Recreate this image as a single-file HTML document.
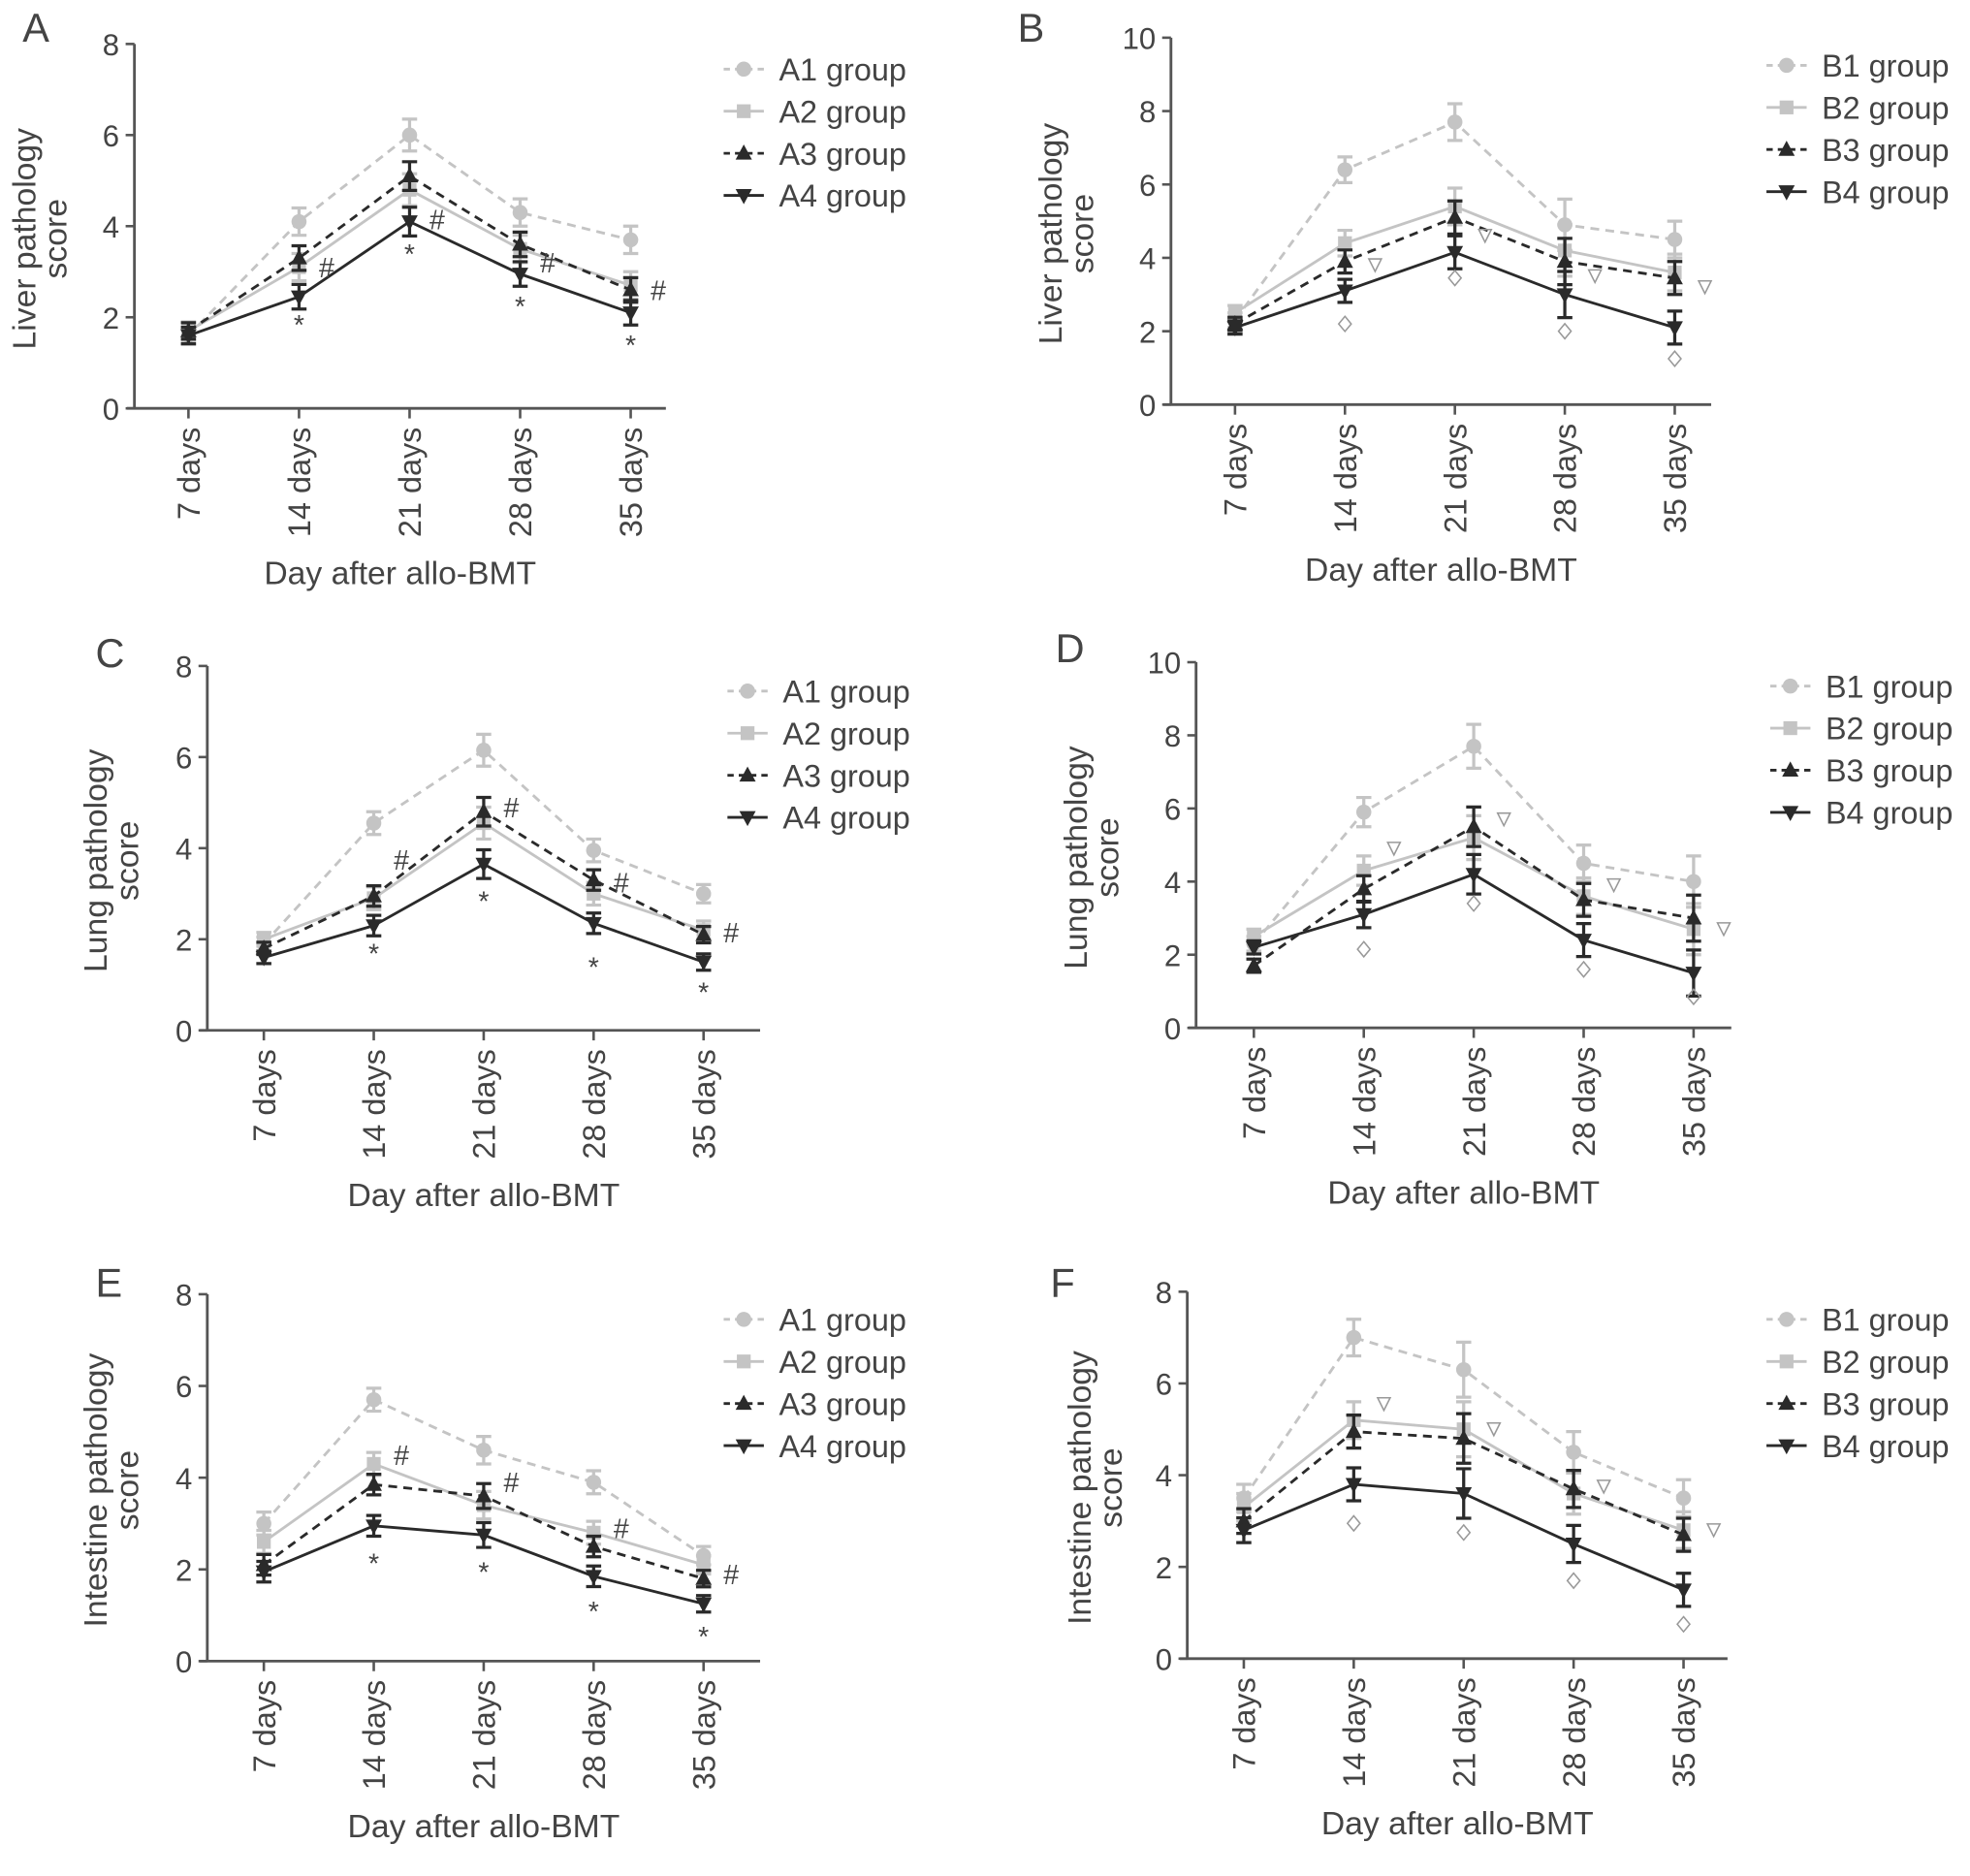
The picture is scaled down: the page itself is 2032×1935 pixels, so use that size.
<!DOCTYPE html>
<html><head><meta charset="utf-8"><style>
html,body{margin:0;padding:0;background:#fff;}
svg{display:block;}
text{font-family:"Liberation Sans",sans-serif;fill:#444;}
</style></head><body>
<svg id="fig" width="2032" height="1935" viewBox="0 0 1568 1493" preserveAspectRatio="none" xmlns="http://www.w3.org/2000/svg"></svg>
<script>
const categories = ["7 days","14 days","21 days","28 days","35 days"];
// Panel A (liver, A groups)
const A_s1 = [1.6, 4.1, 6.0, 4.3, 3.7];
const A_s2 = [1.7, 3.1, 4.8, 3.5, 2.7];
const A_s3 = [1.7, 3.3, 5.1, 3.6, 2.6];
const A_s4 = [1.6, 2.45, 4.1, 2.95, 2.1];
const A_err = [0.2, 0.3, 0.35, 0.3, 0.3];
const A_hash = [null, 3.1, 4.15, 3.2, 2.6];
const A_star = [null, 1.9, 3.45, 2.3, 1.45];
// Panel B (liver, B groups)
const B_s1 = [2.3, 6.4, 7.7, 4.9, 4.5];
const B_s2 = [2.5, 4.4, 5.4, 4.2, 3.6];
const B_s3 = [2.2, 3.9, 5.1, 3.9, 3.45];
const B_s4 = [2.1, 3.1, 4.15, 3.0, 2.1];
const B_err = [0.2, 0.35, 0.5, 0.7, 0.5];
const B_tri = [null, 3.8, 4.6, 3.5, 3.2];
const B_dia = [null, 2.2, 3.45, 2.0, 1.25];
// Panel C (lung, A groups)
const C_s1 = [1.9, 4.55, 6.15, 3.95, 3.0];
const C_s2 = [2.0, 2.9, 4.55, 3.0, 2.2];
const C_s3 = [1.8, 2.95, 4.8, 3.3, 2.1];
const C_s4 = [1.6, 2.3, 3.65, 2.35, 1.5];
const C_err = [0.15, 0.25, 0.35, 0.25, 0.2];
const C_hash = [null, 3.75, 4.9, 3.25, 2.15];
const C_star = [null, 1.75, 2.9, 1.45, 0.9];
// Panel D (lung, B groups)
const D_s1 = [2.3, 5.9, 7.7, 4.5, 4.0];
const D_s2 = [2.5, 4.3, 5.2, 3.6, 2.7];
const D_s3 = [1.7, 3.8, 5.5, 3.5, 3.0];
const D_s4 = [2.2, 3.1, 4.2, 2.4, 1.5];
const D_err = [0.2, 0.4, 0.6, 0.5, 0.7];
const D_tri = [null, 4.9, 5.7, 3.9, 2.7];
const D_dia = [null, 2.15, 3.4, 1.6, 0.85];
// Panel E (intestine, A groups)
const E_s1 = [3.0, 5.7, 4.6, 3.9, 2.3];
const E_s2 = [2.6, 4.3, 3.4, 2.8, 2.1];
const E_s3 = [2.1, 3.85, 3.6, 2.5, 1.8];
const E_s4 = [1.95, 2.95, 2.75, 1.85, 1.25];
const E_err = [0.25, 0.25, 0.3, 0.25, 0.2];
const E_hash = [null, 4.5, 3.9, 2.9, 1.9];
const E_star = [null, 2.2, 2.0, 1.15, 0.6];
// Panel F (intestine, B groups)
const F_s1 = [3.5, 7.0, 6.3, 4.5, 3.5];
const F_s2 = [3.3, 5.2, 5.0, 3.6, 2.8];
const F_s3 = [3.0, 4.95, 4.8, 3.7, 2.7];
const F_s4 = [2.8, 3.8, 3.6, 2.5, 1.5];
const F_err = [0.3, 0.4, 0.6, 0.45, 0.4];
const F_tri = [null, 5.55, 5.0, 3.75, 2.8];
const F_dia = [null, 2.95, 2.75, 1.7, 0.75];
const ticksY8 = ["0","2","4","6","8"];
const ticksY10 = ["0","2","4","6","8","10"];

const NS="http://www.w3.org/2000/svg";
const svg=document.getElementById('fig');
function mk(tag,attrs,parent){const e=document.createElementNS(NS,tag);for(const k in attrs)e.setAttribute(k,attrs[k]);(parent||svg).appendChild(e);return e;}
const C1='#c4c4c4', C3='#2a2a2a';

function marker(g,type,x,y,col){
  let e;
  if(type==='circle') e=mk('circle',{cx:x,cy:y,r:6,fill:col},g);
  else if(type==='square') e=mk('rect',{x:x-5.5,y:y-5.5,width:11,height:11,fill:col},g);
  else if(type==='up') e=mk('polygon',{points:`${x},${y-7} ${x-6.5},${y+5} ${x+6.5},${y+5}`,fill:col},g);
  else e=mk('polygon',{points:`${x},${y+7} ${x-6.5},${y-5} ${x+6.5},${y-5}`,fill:col},g);
  return e;
}

function panel(p){
  const g=mk('g',{});
  
  
  const y0=p.yBottom, yT=p.yTop, ymax=p.ymax;
  const Y=v=>y0-(v/ymax)*(y0-yT);
  const X=i=>p.x0+i*p.dx;
  const L=mk('text',{x:p.lx,y:p.ly,'font-size':32,fill:'#222'},g);L.textContent=p.letter;
  
  
  const ax=mk('path',{d:`M${p.ax},${yT} V${y0} M${p.ax-6},${y0} H${p.axEnd}`,stroke:'#555','stroke-width':2.2,fill:'none'},g);
  
  
  p.ticks.forEach((t,i)=>{
    const v=+t, yy=Y(v);
    mk('line',{x1:p.ax-7,x2:p.ax,y1:yy,y2:yy,stroke:'#555','stroke-width':2},g);
    const tt=mk('text',{x:p.ax-12,y:yy+9,'font-size':24,'text-anchor':'end'},g);tt.textContent=t;
    
    
  });
  categories.forEach((c,i)=>{
    const xx=X(i);
    mk('line',{x1:xx,x2:xx,y1:y0,y2:y0+8,stroke:'#555','stroke-width':2},g);
    const tt=mk('text',{x:0,y:0,'font-size':25,'text-anchor':'end',transform:`translate(${xx+9},${y0+15}) rotate(-90)`},g);tt.textContent=c;
    
    
  });
  const xt=mk('text',{x:(p.ax+p.axEnd)/2,y:y0+140,'font-size':26,'text-anchor':'middle'},g);xt.textContent='Day after allo-BMT';
  
  
  const yc=(y0+yT)/2+10;
  const yt=mk('text',{x:0,y:0,'font-size':26,'text-anchor':'middle',transform:`translate(${p.ytx-5},${yc}) rotate(-90)`},g);
  const t1=mk('tspan',{x:0,dy:0},yt);t1.textContent=p.organ+' pathology';
  const t2=mk('tspan',{x:0,dy:25},yt);t2.textContent='score';
  
  
  const defs=[{v:p.s[0],col:C1,dash:'7,5',m:'circle'},{v:p.s[1],col:C1,dash:'',m:'square'},{v:p.s[2],col:C3,dash:'7,5',m:'up'},{v:p.s[3],col:C3,dash:'',m:'down'}];
  defs.forEach((d,si)=>{
    const sg=mk('g',{},g);
    
    
    const pts=d.v.map((v,i)=>X(i)+','+Y(v)).join(' ');
    mk('polyline',{points:pts,fill:'none',stroke:d.col,'stroke-width':2.2,'stroke-dasharray':d.dash},sg);
    d.v.forEach((v,i)=>{
      const e=p.err[i]*(si<2?1:0.9), x=X(i);
      mk('path',{d:`M${x},${Y(v+e)} V${Y(v-e)} M${x-6},${Y(v+e)} H${x+6} M${x-6},${Y(v-e)} H${x+6}`,stroke:d.col,'stroke-width':2.5,fill:'none'},sg);
      const mm=marker(sg,d.m,x,Y(v),d.col);
      
      
    });
  });
  if(p.hash){
    p.hash.forEach((v,i)=>{if(v===null)return;
      const t=mk('text',{x:X(i)+22,y:Y(v)+8,'font-size':22,'text-anchor':'middle',fill:'#555'},g);t.textContent='#';
      
      });
    p.star.forEach((v,i)=>{if(v===null)return;
      const t=mk('text',{x:X(i),y:Y(v)+10,'font-size':22,'text-anchor':'middle',fill:'#333'},g);t.textContent='*';
      
      });
  } else {
    p.tri.forEach((v,i)=>{if(v===null)return;
      const x=X(i)+24,y=Y(v);
      const t=mk('polygon',{points:`${x-5},${y-5} ${x+5},${y-5} ${x},${y+5}`,fill:'none',stroke:'#999','stroke-width':1.2},g);
      
      });
    p.dia.forEach((v,i)=>{if(v===null)return;
      const x=X(i),y=Y(v);
      const t=mk('polygon',{points:`${x},${y-6} ${x+5},${y} ${x},${y+6} ${x-5},${y}`,fill:'none',stroke:'#999','stroke-width':1.2},g);
      
      });
  }
  const lg=mk('g',{},g);
  
  
  defs.forEach((d,si)=>{
    const yy=p.legY+si*33.5, xm=p.legX;
    mk('line',{x1:xm-16,x2:xm+16,y1:yy,y2:yy,stroke:d.col,'stroke-width':2.2,'stroke-dasharray':d.dash?'5,4':''},lg);
    marker(lg,d.m,xm,yy,d.col);
    const t=mk('text',{x:xm+28,y:yy+9,'font-size':25},lg);t.textContent=p.prefix+(si+1)+' group';
    
    
  });
}

panel({letter:'A',lx:18,ly:33,ax:107,axEnd:530,yTop:35,yBottom:325,ymax:8,ticks:ticksY8,x0:150,dx:88,ytx:33,organ:'Liver',prefix:'A',s:[A_s1,A_s2,A_s3,A_s4],err:A_err,hash:A_hash,star:A_star,legX:592,legY:55});
panel({letter:'B',lx:810,ly:33,ax:932,axEnd:1362,yTop:30,yBottom:322,ymax:10,ticks:ticksY10,x0:983,dx:87.5,ytx:850,organ:'Liver',prefix:'B',s:[B_s1,B_s2,B_s3,B_s4],err:B_err,tri:B_tri,dia:B_dia,legX:1422,legY:52});
panel({letter:'C',lx:76,ly:531,ax:165,axEnd:605,yTop:530,yBottom:820,ymax:8,ticks:ticksY8,x0:210,dx:87.5,ytx:90,organ:'Lung',prefix:'A',s:[C_s1,C_s2,C_s3,C_s4],err:C_err,hash:C_hash,star:C_star,legX:595,legY:550});
panel({letter:'D',lx:840,ly:527,ax:952,axEnd:1378,yTop:527,yBottom:818,ymax:10,ticks:ticksY10,x0:998,dx:87.5,ytx:870,organ:'Lung',prefix:'B',s:[D_s1,D_s2,D_s3,D_s4],err:D_err,tri:D_tri,dia:D_dia,legX:1425,legY:546});
panel({letter:'E',lx:76,ly:1032,ax:165,axEnd:605,yTop:1030,yBottom:1322,ymax:8,ticks:ticksY8,x0:210,dx:87.5,ytx:90,organ:'Intestine',prefix:'A',s:[E_s1,E_s2,E_s3,E_s4],err:E_err,hash:E_hash,star:E_star,legX:592,legY:1050});
panel({letter:'F',lx:836,ly:1032,ax:945,axEnd:1375,yTop:1028,yBottom:1320,ymax:8,ticks:ticksY8,x0:990,dx:87.5,ytx:873,organ:'Intestine',prefix:'B',s:[F_s1,F_s2,F_s3,F_s4],err:F_err,tri:F_tri,dia:F_dia,legX:1422,legY:1050});
</script>
</body></html>
